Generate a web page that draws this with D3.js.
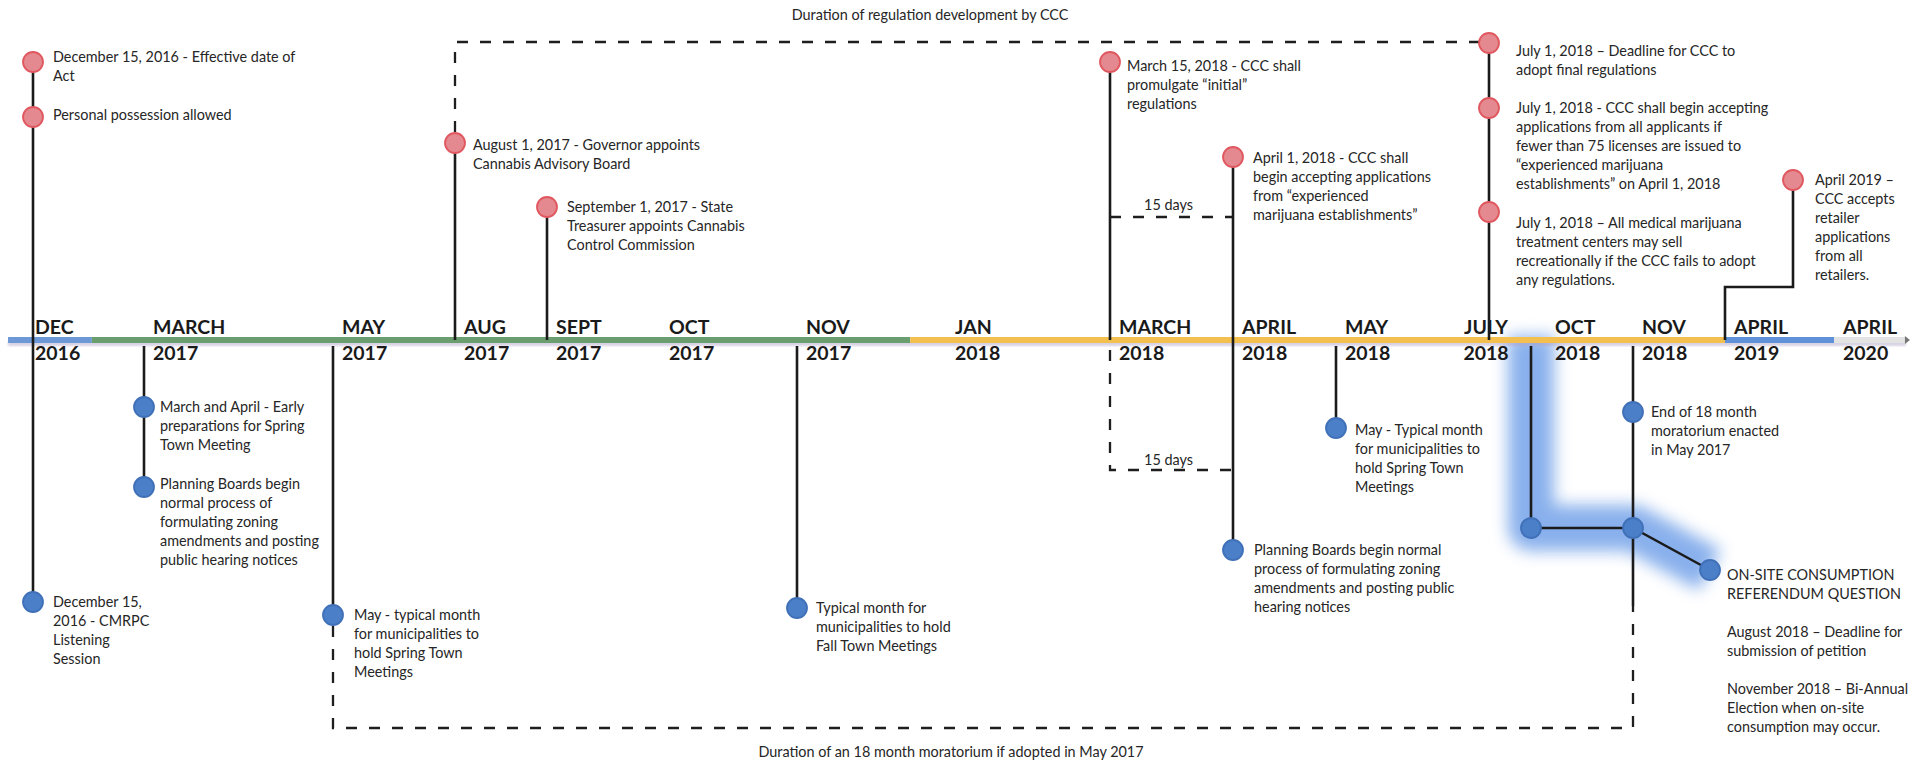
<!DOCTYPE html>
<html><head><meta charset="utf-8">
<script src="https://cdn.jsdelivr.net/npm/d3@7"></script>
<style>html,body{margin:0;padding:0;background:#fff;overflow:hidden}</style>
</head><body><svg id="c" width="1923" height="762"></svg>
<script>
// ---------------- DATA ----------------
const tickMonths = ["DEC","MARCH","MAY","AUG","SEPT","OCT","NOV","JAN","MARCH","APRIL","MAY","JULY","OCT","NOV","APRIL","APRIL"];
const tickYears  = ["2016","2017","2017","2017","2017","2017","2017","2018","2018","2018","2018","2018","2018","2018","2019","2020"];

// axis colour bands, expressed as tick-index spans
const bandStart = [-0.225, 0.53, 6.76, 14, 15];
const bandEnd   = [0.53, 6.76, 14, 15, 15.66];

// events above the line (red)
const aboveTick = [0,0,3,4,8,9,11,11,11,14];
const aboveText = [
  ["December 15, 2016 - Effective date of","Act"],
  ["Personal possession allowed"],
  ["August 1, 2017 - Governor appoints","Cannabis Advisory Board"],
  ["September 1, 2017 - State","Treasurer appoints Cannabis","Control Commission"],
  ["March 15, 2018 - CCC shall","promulgate \u201cinitial\u201d","regulations"],
  ["April 1, 2018 - CCC shall","begin accepting applications","from \u201cexperienced","marijuana establishments\u201d"],
  ["July 1, 2018 \u2013 Deadline for CCC to","adopt final regulations"],
  ["July 1, 2018 - CCC shall begin accepting","applications from all applicants if","fewer than 75 licenses are issued to","\u201cexperienced marijuana","establishments\u201d on April 1, 2018"],
  ["July 1, 2018 \u2013 All medical marijuana","treatment centers may sell","recreationally if the CCC fails to adopt","any regulations."],
  ["April 2019 \u2013","CCC accepts","retailer","applications","from all","retailers."]
];

// events below the line (blue)
const belowTick = [0,1,1,2,6,9,10,13];
const belowText = [
  ["December 15,","2016 - CMRPC","Listening","Session"],
  ["March and April - Early","preparations for Spring","Town Meeting"],
  ["Planning Boards begin","normal process of","formulating zoning","amendments and posting","public hearing notices"],
  ["May - typical month","for municipalities to","hold Spring Town","Meetings"],
  ["Typical month for","municipalities to hold","Fall Town Meetings"],
  ["Planning Boards begin normal","process of formulating zoning","amendments and posting public","hearing notices"],
  ["May - Typical month","for municipalities to","hold Spring Town","Meetings"],
  ["End of 18 month","moratorium enacted","in May 2017"]
];

// highlighted on-site consumption group
const onsiteTicks = [12, 13];
const onsiteText = ["ON-SITE CONSUMPTION","REFERENDUM QUESTION","","August 2018 \u2013 Deadline for","submission of petition","","November 2018 \u2013 Bi-Annual","Election when on-site","consumption may occur."];

const regulationLabel = "Duration of regulation development by CCC";
const moratoriumLabel = "Duration of an 18 month moratorium if adopted in May 2017";
const daysLabel = "15 days";

// ---------------- LAYOUT ----------------
const W = 1923, H = 762, AXIS_Y = 340;
const tickPos = [33,144,333,455,547,660,797,946,1110,1233,1336,1489,1531,1633,1725,1834];
const labelDx = [2,9,9,9,9,9,9,9,9,9,9,0,24,9,9,9];
const bandColors = ["#6C98D6","#6A9E6F","#F3C04F","#5F91D8","#E3E3E3"];
// [dotY, textDx, first-line offset]
const aboveLayout = [[62,20,-5],[117,20,-2],[143,18,2],[207,20,0],[62,17,4],[157,20,1],[43,27,8],[108,27,0],[212,27,11],[180,22,0]];
const aprilStep = {dx:68, y:287};
const belowLayout = [[602,20,0],[407,16,0],[487,16,-3],[615,21,0],[608,19,0],[550,21,0],[428,19,2],[412,18,0]];
const onsiteY = 528, onsiteEnd = {dx:77, y:570};
const LINE = 19;
const FONT = "Lato, 'Open Sans', sans-serif";
const RED_FILL = "#E4898F", RED_STROKE = "#E0575F";
const BLUE_FILL = "#4B7FC7", BLUE_STROKE = "#3F70B8";

// ---------------- SCALES ----------------
const x = d3.scaleLinear().domain(d3.range(tickMonths.length)).range(tickPos);
const y = d3.scaleLinear().domain([0, AXIS_Y]).range([AXIS_Y, 0]); // level above axis -> px
const Y = v => y(AXIS_Y - v);

const svg = d3.select("#c");
svg.append("rect").attr("width",W).attr("height",H).attr("fill","#fff");

const defs = svg.append("defs");
defs.append("filter").attr("id","glow").attr("x","-50%").attr("y","-50%").attr("width","200%").attr("height","200%")
  .append("feGaussianBlur").attr("stdDeviation",8);
defs.append("filter").attr("id","soft").append("feGaussianBlur").attr("stdDeviation",1);

// glow highlight
const endX = x(onsiteTicks[1]) + onsiteEnd.dx;
svg.append("path")
  .attr("d", d3.line()([[x(onsiteTicks[0]), Y(AXIS_Y-4)],[x(onsiteTicks[0]), Y(onsiteY)],[x(onsiteTicks[1]), Y(onsiteY)],[endX, Y(onsiteEnd.y)]]))
  .attr("fill","none").attr("stroke","#7DA8EA").attr("stroke-width",46).attr("stroke-linejoin","round")
  .attr("opacity",0.9).attr("filter","url(#glow)");

// ---------- dashed brackets ----------
const dashG = svg.append("g").attr("stroke","#1e1e1e").attr("stroke-width",2.3).attr("fill","none").attr("stroke-dasharray","11,12");
const dashLines = [
  [[x(3),Y(132)],[x(3),Y(42)],[x(11)-10,Y(42)]],
  [[x(2),Y(626)],[x(2),Y(728)],[x(13),Y(728)],[x(13),Y(606)]],
  [[x(8),Y(350)],[x(8),Y(470)],[x(9),Y(470)]],
  [[x(8),Y(217)],[x(9),Y(217)]]
];
dashLines.forEach(p => dashG.append("path").attr("d", d3.line()(p)));

// ---------- axis bar ----------
const axisG = svg.append("g");
axisG.append("rect").attr("x",x(bandStart[0])).attr("y",AXIS_Y+1).attr("width",x(bandEnd[4])-x(bandStart[0])).attr("height",5)
  .attr("fill","#A89CC4").attr("opacity",0.45).attr("filter","url(#soft)");
bandStart.forEach((s,i)=>{
  axisG.append("rect").attr("x",x(s)).attr("y",AXIS_Y-3).attr("width",x(bandEnd[i])-x(s)).attr("height",6).attr("fill",bandColors[i]);
});
axisG.append("path").attr("d",`M${x(bandEnd[4])-1},${AXIS_Y-4}L${x(bandEnd[4])+4},${AXIS_Y}L${x(bandEnd[4])-1},${AXIS_Y+4}Z`).attr("fill","#777");

// ---------- stems ----------
const stemG = svg.append("g").attr("stroke","#1b1b1b").attr("stroke-width",2.6).attr("fill","none");
const stems = [
  [0,62,602],[1,346,487],[2,346,615],[3,143,AXIS_Y],[4,207,AXIS_Y],[6,346,608],
  [8,62,AXIS_Y],[9,157,550],[10,346,428],[11,43,AXIS_Y],[12,346,onsiteY],[13,346,606]
];
stems.forEach(s => stemG.append("line").attr("x1",x(s[0])).attr("x2",x(s[0])).attr("y1",Y(s[1])).attr("y2",Y(s[2])));
const aprX = x(14), aprDotX = aprX + aprilStep.dx;
stemG.append("path").attr("d", d3.line()([[aprX,Y(AXIS_Y)],[aprX,Y(aprilStep.y)],[aprDotX,Y(aprilStep.y)],[aprDotX,Y(aboveLayout[9][0])]]));
stemG.append("path").attr("stroke-width",2.4)
  .attr("d", d3.line()([[x(onsiteTicks[0]),Y(onsiteY)],[x(onsiteTicks[1]),Y(onsiteY)],[endX,Y(onsiteEnd.y)]]));

// ---------- month labels ----------
const lab = svg.append("g").attr("font-family",FONT).attr("font-weight",700).attr("font-size",19.5).attr("fill","#1a1a1a");
tickMonths.forEach((m,i)=>{
  const anchor = i===11 ? "middle" : "start";
  const lx = i===11 ? x(i)-3 : x(i)+labelDx[i];
  lab.append("text").attr("x",lx).attr("y",Y(334)).attr("text-anchor",anchor).text(m);
  lab.append("text").attr("x",lx).attr("y",Y(360)).attr("text-anchor",anchor).text(tickYears[i]);
});

// ---------- dots & texts ----------
const txt = svg.append("g").attr("font-family",FONT).attr("font-size",14.4).attr("fill","#262626");
function block(x0, yCenter, lines){
  lines.forEach((l,j)=>{
    if(l) txt.append("text").attr("x",x0).attr("y",Y(yCenter + 5 + j*LINE)).text(l);
  });
}
const dotG = svg.append("g");
function dot(cx, cy, fill, stroke){
  dotG.append("circle").attr("cx",cx).attr("cy",Y(cy)).attr("r",10).attr("fill",fill).attr("stroke",stroke).attr("stroke-width",1.8);
}
aboveTick.forEach((t,i)=>{
  const L = aboveLayout[i];
  const cx = i===9 ? aprDotX : x(t);
  dot(cx, L[0], RED_FILL, RED_STROKE);
  block(cx + L[1], L[0] + L[2], aboveText[i]);
});
belowTick.forEach((t,i)=>{
  const L = belowLayout[i];
  dot(x(t), L[0], BLUE_FILL, BLUE_STROKE);
  block(x(t) + L[1], L[0] + L[2], belowText[i]);
});
dot(x(onsiteTicks[0]), onsiteY, BLUE_FILL, BLUE_STROKE);
dot(x(onsiteTicks[1]), onsiteY, BLUE_FILL, BLUE_STROKE);
dot(endX, onsiteEnd.y, BLUE_FILL, BLUE_STROKE);
block(endX + 17, onsiteEnd.y + 5, onsiteText);

// ---------- bracket labels ----------
txt.append("text").attr("x",930).attr("y",Y(20)).attr("text-anchor","middle").text(regulationLabel);
txt.append("text").attr("x",951).attr("y",Y(757)).attr("text-anchor","middle").text(moratoriumLabel);
const mid = (x(8)+x(9))/2 - 3;
txt.append("text").attr("x",mid).attr("y",Y(210)).attr("text-anchor","middle").text(daysLabel);
txt.append("text").attr("x",mid).attr("y",Y(465)).attr("text-anchor","middle").text(daysLabel);
</script></body></html>
